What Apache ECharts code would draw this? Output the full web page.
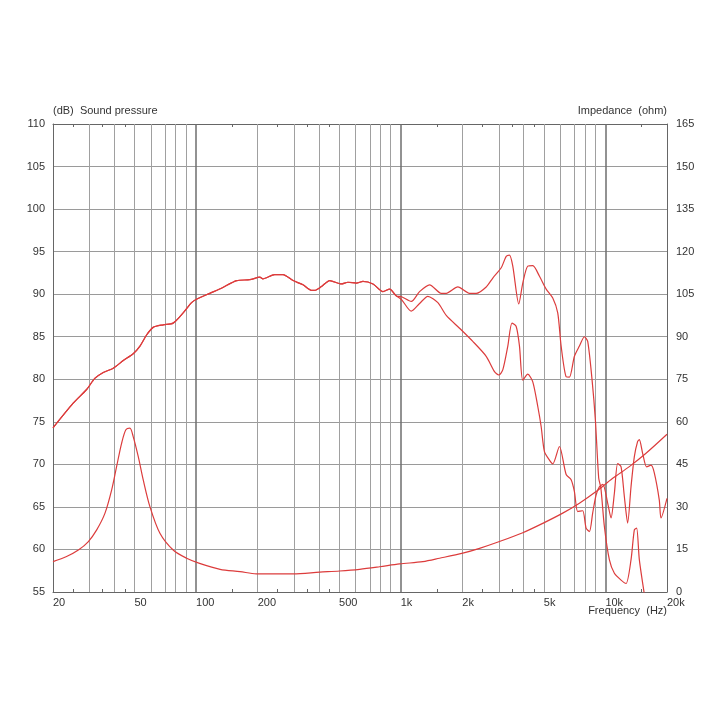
<!DOCTYPE html>
<html><head><meta charset="utf-8">
<script src="https://cdn.jsdelivr.net/npm/echarts@6/dist/echarts.min.js"></script>
<style>html,body{margin:0;padding:0;background:#fff}#c{width:720px;height:720px}</style>
</head><body><div id="c"></div>
<script>
// Shared low-frequency part of both SPL curves (Hz, dB)
const freqLow = [20,25.1,29.2,32.0,35.2,39.4,44.1,49.3,53.2,57.3,61.7,69.1,77.3,86.5,95.1,100.5,116.7,133,158,183,205,212,242,266,298,333,366,380,410,450,513,552,607,654,732,819,883,952];
const splLow  = [74.3,77.2,78.8,80.1,80.8,81.3,82.2,83.0,83.9,85.2,86.1,86.4,86.6,87.8,89.0,89.4,90.1,90.7,91.6,91.7,92.0,91.8,92.3,92.3,91.6,91.1,90.45,90.45,90.9,91.6,91.2,91.4,91.3,91.5,91.2,90.3,90.6,89.8];

// Upper SPL branch above 1 kHz
const freqHiA = [1010,1126,1236,1384,1578,1669,1901,2168,2338,2616,2818,3098,3276,3400,3528,3774,3948,4176,4418,4764,5136,5532,5850,6078,6430,6672,7058,7466,7898,8196,8610,8936,9274,9506,9886,10456,11064,11930,12618,13346,13850,14212,14650,15670];
const splHiA  = [89.7,89.15,90.3,91.1,90.1,90.1,90.85,90.1,90.1,90.85,91.9,93.1,94.45,94.6,93.3,88.85,91.3,93.3,93.35,92.1,90.6,89.55,87.8,83.9,80.3,80.25,82.7,83.9,85.0,84.45,79.9,75.2,68.4,67.2,62.7,58.8,57.2,56.4,56.0,58.8,62.3,62.5,58.8,54.0];

// Lower SPL branch above 1 kHz
const freqHiB = [1010,1126,1236,1357,1519,1669,1938,2250,2616,2872,3014,3152,3336,3496,3666,3804,3948,4176,4418,4674,4854,5038,5328,5532,5962,6430,6802,7058,7324,7746,8050,8354,8670,9006,9346,9722,10260,10658,11064,11482,11930,12380,12846,13346,13850,14374,14650,15204,15902,16708,17338,18340,18696,20000];
const splHiB  = [89.35,88.0,88.9,89.75,89.0,87.5,86.0,84.45,82.7,80.9,80.5,81.1,83.9,86.6,86.2,83.9,79.9,80.6,79.7,76.8,74.45,71.5,70.5,70.06,72.1,68.8,68.2,66.8,64.45,64.55,62.5,62.1,64.3,66.4,67.35,67.65,65.45,63.7,66.6,70.1,69.7,66.2,63.1,67.4,70.9,72.7,72.9,71.3,69.7,69.9,69.0,65.8,63.7,66.0];

// Impedance (Hz, ohm)
const freqImp = [20,23.3,26.6,29.7,32.7,35.9,38.7,40.9,43.3,45.4,47.5,49.3,52.2,55.2,59.5,66.6,77.3,89.9,104,131,164,197,298,402,503,630,788,987,1283,1548,2011,2427,3038,3948,4943,6188,7466,9006,10856,13092,15796,20000];
const impVal  = [10.7,12.5,14.8,17.7,21.9,27.8,36.0,44.2,52.5,57.2,57.8,54.8,47.7,39.5,30.1,20.7,14.8,11.9,10.1,8.0,7.2,6.4,6.4,7.0,7.4,8.0,8.9,9.9,10.7,11.9,13.7,15.4,17.8,20.9,24.2,27.8,31.3,35.4,40.1,44.2,48.9,55.6];

const xLabelFreqs = [20,50,100,200,500,1000,2000,5000,10000,20000];
const gridFreqs = [30,40,50,60,70,80,90,100,200,300,400,500,600,700,800,900,1000,2000,3000,4000,5000,6000,7000,8000,9000,10000];
const decadeFreqs = [100,1000,10000];
const minorTickFreqs = [25,35,45,150,250,350,450,1500,2500,3500,4500,15000];

const FONT = 'Liberation Sans, Arial, sans-serif';
const TXT = '#333';
const RED = '#dc3c3c';
const lg = Math.log10;
const pairs = (fs, vs) => fs.map((f, i) => [lg(f), vs[i]]);

const chart = echarts.init(document.getElementById('c'));
const xMin = lg(20), xMax = lg(20000);
const xCommon = {
  type: 'value', min: xMin, max: xMax,
  splitLine: {show: false},
  axisLine: {show: true, lineStyle: {color: '#666', width: 1}},
  axisTick: {show: true, inside: true, length: 3, customValues: minorTickFreqs.map(lg), lineStyle: {color: '#666'}}
};
chart.setOption({
  animation: false,
  backgroundColor: '#fff',
  grid: {left: 53, right: 53, top: 124, bottom: 128, containLabel: false},
  xAxis: [
    Object.assign({}, xCommon, {
      position: 'bottom',
      axisLabel: {
        customValues: xLabelFreqs.map(lg), align: 'left', margin: 5,
        color: TXT, fontSize: 11, fontFamily: FONT,
        formatter: v => { const f = Math.round(Math.pow(10, v)); return f >= 1000 ? (f / 1000) + 'k' : String(f); }
      }
    }),
    Object.assign({}, xCommon, {position: 'top', axisLabel: {show: false}})
  ],
  yAxis: [
    {
      type: 'value', min: 55, max: 110, interval: 5, position: 'left',
      name: '(dB)  Sound pressure', nameLocation: 'end', nameGap: 13,
      nameTextStyle: {align: 'left', verticalAlign: 'middle', color: TXT, fontSize: 11, fontFamily: FONT},
      axisLine: {show: true, lineStyle: {color: '#666'}},
      axisTick: {show: false},
      axisLabel: {color: TXT, fontSize: 11, fontFamily: FONT, margin: 8},
      splitLine: {show: true, lineStyle: {color: '#9a9a9a', width: 1}}
    },
    {
      type: 'value', min: 0, max: 165, interval: 15, position: 'right',
      name: 'Impedance  (ohm)', nameLocation: 'end', nameGap: 13,
      nameTextStyle: {align: 'right', verticalAlign: 'middle', color: TXT, fontSize: 11, fontFamily: FONT},
      axisLine: {show: true, lineStyle: {color: '#666'}},
      axisTick: {show: false},
      axisLabel: {color: TXT, fontSize: 11, fontFamily: FONT, margin: 9},
      splitLine: {show: false}
    }
  ],
  graphic: [{
    type: 'text', right: 53, top: 605,
    style: {text: 'Frequency  (Hz)', fill: TXT, font: '11px ' + FONT}
  }],
  series: [
    {
      name: 'Impedance', type: 'line', xAxisIndex: 0, yAxisIndex: 1, z: 10,
      data: pairs(freqImp, impVal), showSymbol: false, smooth: 0.3,
      lineStyle: {color: RED, width: 1.2},
      markLine: {
        silent: true, symbol: ['none', 'none'], z: 1, animation: false,
        label: {show: false},
        data: gridFreqs.map(f => {
          const dec = decadeFreqs.indexOf(f) >= 0;
          return {xAxis: lg(f), lineStyle: {color: dec ? '#6e6e6e' : '#a0a0a0', width: dec ? 1.5 : 1, type: 'solid'}};
        })
      }
    },
    {
      name: 'SPL upper', type: 'line', xAxisIndex: 0, yAxisIndex: 0, z: 10,
      data: pairs(freqLow.concat(freqHiA), splLow.concat(splHiA)), showSymbol: false, smooth: 0.25,
      lineStyle: {color: RED, width: 1.2}
    },
    {
      name: 'SPL lower', type: 'line', xAxisIndex: 0, yAxisIndex: 0, z: 10,
      data: pairs(freqLow.concat(freqHiB), splLow.concat(splHiB)), showSymbol: false, smooth: 0.25,
      lineStyle: {color: RED, width: 1.2}
    }
  ]
});
</script>
</body></html>
